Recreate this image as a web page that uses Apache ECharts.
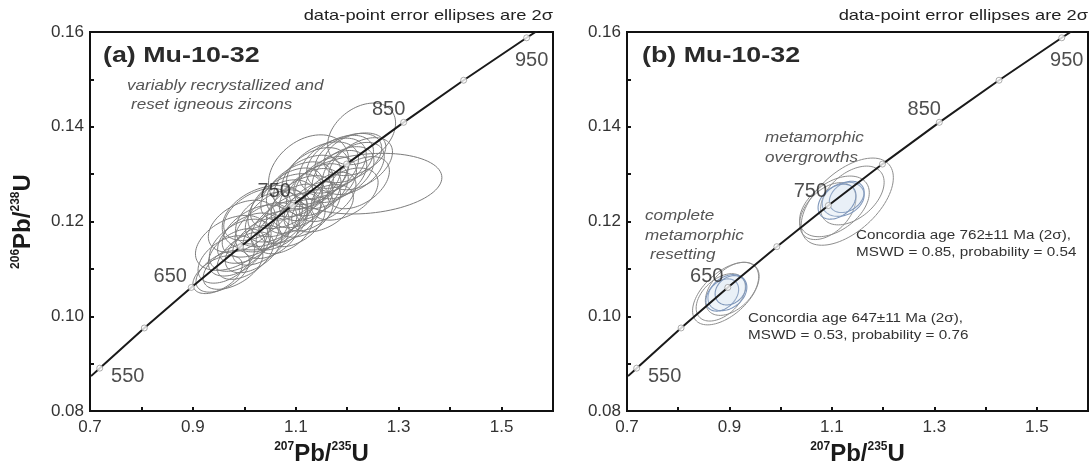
<!DOCTYPE html>
<html>
<head>
<meta charset="utf-8">
<script src="https://cdn.jsdelivr.net/npm/echarts@6/dist/echarts.min.js"></script>
<style>html,body{margin:0;padding:0;background:#fff}#c{width:1092px;height:471px}</style>
</head>
<body>
<div id="c"></div>
<script>
// ---- Data ----
const ages = [550, 600, 650, 700, 750, 800, 850, 900, 950];
const concordiaX = [0.7189, 0.8056, 0.8968, 0.9925, 1.0931, 1.1987, 1.3097, 1.4263, 1.5488];
const concordiaY = [0.08906, 0.09754, 0.10609, 0.11470, 0.12338, 0.13213, 0.14094, 0.14982, 0.15878];
const concordiaStart = [0.7020, 0.08738];   // 540 Ma
const concordiaEnd = [1.5740, 0.16058];     // 960 Ma
const labeledAges = [550, 650, 750, 850, 950];
const xTickLabels = ['0.7', '0.9', '1.1', '1.3', '1.5'];
const yTickLabels = ['0.08', '0.10', '0.12', '0.14', '0.16'];

// ellipse: [x 207Pb/235U, y 206Pb/238U, 2s x, 2s y, rho]
const ellipsesA = [
  [0.958, 0.1095, 0.052, 0.0044, 0.50],
  [0.965, 0.1120, 0.055, 0.0050, 0.45],
  [0.978, 0.1105, 0.058, 0.0048, 0.50],
  [0.985, 0.1135, 0.055, 0.0050, 0.45],
  [0.992, 0.1150, 0.060, 0.0055, 0.45],
  [0.995, 0.1190, 0.065, 0.0055, 0.40],
  [1.002, 0.1128, 0.055, 0.0050, 0.50],
  [1.008, 0.1165, 0.060, 0.0053, 0.45],
  [1.018, 0.1142, 0.055, 0.0050, 0.50],
  [0.975, 0.1155, 0.070, 0.0058, 0.40],
  [1.022, 0.1180, 0.065, 0.0055, 0.45],
  [1.025, 0.1215, 0.065, 0.0055, 0.45],
  [1.032, 0.1158, 0.055, 0.0050, 0.50],
  [1.042, 0.1188, 0.060, 0.0052, 0.45],
  [1.048, 0.1205, 0.065, 0.0058, 0.40],
  [1.052, 0.1172, 0.055, 0.0050, 0.45],
  [1.062, 0.1212, 0.060, 0.0055, 0.45],
  [1.068, 0.1192, 0.055, 0.0052, 0.50],
  [1.072, 0.1228, 0.065, 0.0060, 0.40],
  [1.078, 0.1182, 0.055, 0.0050, 0.45],
  [1.082, 0.1243, 0.070, 0.0058, 0.45],
  [1.088, 0.1207, 0.060, 0.0053, 0.50],
  [1.092, 0.1258, 0.060, 0.0055, 0.45],
  [1.098, 0.1227, 0.055, 0.0052, 0.45],
  [1.102, 0.1197, 0.055, 0.0050, 0.50],
  [1.108, 0.1268, 0.065, 0.0058, 0.40],
  [1.112, 0.1242, 0.060, 0.0055, 0.45],
  [1.118, 0.1217, 0.055, 0.0050, 0.45],
  [1.122, 0.1282, 0.065, 0.0058, 0.45],
  [1.128, 0.1257, 0.060, 0.0055, 0.45],
  [1.132, 0.1232, 0.055, 0.0052, 0.50],
  [1.138, 0.1296, 0.065, 0.0060, 0.40],
  [1.142, 0.1267, 0.060, 0.0055, 0.45],
  [1.152, 0.1308, 0.070, 0.0060, 0.40],
  [1.152, 0.1228, 0.060, 0.0050, 0.45],
  [1.158, 0.1282, 0.060, 0.0055, 0.45],
  [1.162, 0.1252, 0.055, 0.0052, 0.50],
  [1.172, 0.1318, 0.065, 0.0058, 0.40],
  [1.178, 0.1295, 0.060, 0.0055, 0.45],
  [1.186, 0.1326, 0.065, 0.0056, 0.40],
  [1.192, 0.1303, 0.060, 0.0055, 0.45],
  [1.195, 0.1258, 0.065, 0.0055, 0.45],
  [1.202, 0.1334, 0.065, 0.0052, 0.40],
  [1.212, 0.1312, 0.060, 0.0055, 0.45],
  [1.215, 0.1342, 0.060, 0.0045, 0.35],
  [1.222, 0.1282, 0.060, 0.0055, 0.45],
  [1.226, 0.1322, 0.062, 0.0055, 0.45],
  [1.228, 0.1385, 0.066, 0.0065, 0.35],
  [1.240, 0.1280, 0.144, 0.0064, 0.20],
  [1.125, 0.1305, 0.078, 0.0078, 0.30],
  [1.040, 0.1208, 0.083, 0.0068, 0.30],
  [0.948, 0.1088, 0.048, 0.0040, 0.50]
];
const ellipsesBGrey = [
  [0.893, 0.1048, 0.065, 0.0066, 0.55],
  [0.905, 0.1058, 0.052, 0.0056, 0.45],
  [0.883, 0.1040, 0.048, 0.0050, 0.45],
  [1.130, 0.1242, 0.090, 0.0092, 0.55],
  [1.105, 0.1232, 0.068, 0.0064, 0.45],
  [1.140, 0.1255, 0.062, 0.0062, 0.45],
  [1.092, 0.1222, 0.055, 0.0060, 0.45]
];
const ellipsesBBlue = [
  [0.896, 0.1050, 0.038, 0.0038, 0.30],
  [0.886, 0.1045, 0.032, 0.0034, 0.35],
  [0.902, 0.1055, 0.030, 0.0031, 0.25],
  [1.122, 0.1247, 0.041, 0.0036, 0.25],
  [1.129, 0.1252, 0.034, 0.0033, 0.30],
  [1.110, 0.1242, 0.037, 0.0037, 0.35]
];

// ---- Styling / layout ----
const FONT = "'Liberation Sans', Arial, Helvetica, sans-serif";
const ageLabelOffset = {550: [28, 8], 650: [-21, -11], 750: [-18, -14], 850: [-15, -13], 950: [5, 23]};

function ellipseRenderer(style) {
  return function (params, api) {
    const cx = api.value(0), cy = api.value(1), sx = api.value(2), sy = api.value(3), r = api.value(4);
    const k = Math.sqrt(1 - r * r);
    const pts = [];
    for (let i = 0; i < 90; i++) {
      const t = i / 90 * 2 * Math.PI;
      const c = Math.cos(t), s = Math.sin(t);
      pts.push(api.coord([cx + sx * c, cy + sy * (r * c + k * s)]));
    }
    return {type: 'polygon', shape: {points: pts}, style: style};
  };
}

const concordiaLine = [concordiaStart].concat(ages.map((a, i) => [concordiaX[i], concordiaY[i]])).concat([concordiaEnd]);
const ageMarkers = ages.map((a, i) => ({
  value: [concordiaX[i], concordiaY[i]],
  label: labeledAges.includes(a) ? {show: true, formatter: String(a), offset: ageLabelOffset[a]} : {show: false}
}));

const supName = (a, b) => `{s|${a}}{b|Pb/}{s|${b}}{b|U}`;
const nameRich = {
  s: {fontSize: 12, fontWeight: 'bold', fontFamily: FONT, color: '#1a1a1a', verticalAlign: 'top', lineHeight: 26},
  b: {fontSize: 24, fontWeight: 'bold', fontFamily: FONT, color: '#1a1a1a', lineHeight: 26}
};

function xAxisCfg(gi) {
  return {
    gridIndex: gi, type: 'value', min: 0.7, max: 1.6, interval: 0.1,
    name: supName('207', '235'), nameLocation: 'middle', nameGap: 25,
    nameTextStyle: {rich: nameRich},
    axisLine: {lineStyle: {color: '#111', width: 2}},
    axisTick: {inside: true, length: 4, lineStyle: {color: '#111', width: 2}},
    axisLabel: {
      margin: 8, fontSize: 17, color: '#333', fontFamily: FONT,
      formatter: v => { const t = v.toFixed(1); return xTickLabels.includes(t) ? t : ''; }
    },
    splitLine: {show: false}
  };
}
function yAxisCfg(gi, withName) {
  const cfg = {
    gridIndex: gi, type: 'value', min: 0.08, max: 0.16, interval: 0.01,
    axisLine: {lineStyle: {color: '#111', width: 2}},
    axisTick: {inside: true, length: 4, lineStyle: {color: '#111', width: 2}},
    axisLabel: {
      margin: 6, fontSize: 17, color: '#333', fontFamily: FONT,
      formatter: v => { const t = v.toFixed(2); return yTickLabels.includes(t) ? t : ''; }
    },
    splitLine: {show: false}
  };
  if (withName) {
    Object.assign(cfg, {
      name: supName('206', '238'), nameLocation: 'middle', nameGap: 54, nameRotate: 90,
      nameTextStyle: {rich: nameRich}
    });
  }
  return cfg;
}

function panelSeries(gi) {
  return [
    {
      type: 'line', xAxisIndex: gi, yAxisIndex: gi, data: concordiaLine, showSymbol: false,
      lineStyle: {color: '#1a1a1a', width: 2}, z: 5, silent: true, clip: true
    },
    {
      type: 'scatter', xAxisIndex: gi, yAxisIndex: gi, data: ageMarkers, symbol: 'circle', symbolSize: 6,
      itemStyle: {color: '#fff', borderColor: '#999', borderWidth: 1}, z: 6,
      label: {position: 'inside', fontSize: 20, color: '#222', fontFamily: FONT}
    }
  ];
}

const greyStyleA = {fill: 'none', stroke: '#7c7c7c', lineWidth: 1};
const greyStyleB = {fill: 'none', stroke: '#8e8e8e', lineWidth: 1};
const blueStyleB = {fill: 'rgba(215,228,242,0.22)', stroke: '#8098bb', lineWidth: 1.1};

function gtext(x, y, text, opt) {
  return {
    type: 'text', x: x, y: y, scaleX: 1.22, scaleY: 1,
    style: Object.assign({text: text, fontFamily: FONT, fill: '#333', fontSize: 14}, opt || {})
  };
}

const option = {
  animation: false,
  backgroundColor: '#fff',
  grid: [
    {left: 90, top: 32, width: 463, height: 386, show: true, borderColor: '#111', borderWidth: 2, backgroundColor: 'transparent'},
    {left: 627, top: 32, width: 461, height: 386, show: true, borderColor: '#111', borderWidth: 2, backgroundColor: 'transparent'}
  ],
  xAxis: [xAxisCfg(0), xAxisCfg(1)],
  yAxis: [yAxisCfg(0, true), yAxisCfg(1, false)],
  series: [
    {type: 'custom', xAxisIndex: 0, yAxisIndex: 0, data: ellipsesA, renderItem: ellipseRenderer(greyStyleA), z: 2, silent: true, clip: true},
    {type: 'custom', xAxisIndex: 1, yAxisIndex: 1, data: ellipsesBGrey, renderItem: ellipseRenderer(greyStyleB), z: 2, silent: true},
    {type: 'custom', xAxisIndex: 1, yAxisIndex: 1, data: ellipsesBBlue, renderItem: ellipseRenderer(blueStyleB), z: 3, silent: true}
  ].concat(panelSeries(0), panelSeries(1)),
  graphic: [
    gtext(553, 16, 'data-point error ellipses are 2σ', {fontSize: 15, textAlign: 'right', textVerticalAlign: 'middle', fill: '#222'}),
    gtext(1088, 16, 'data-point error ellipses are 2σ', {fontSize: 15, textAlign: 'right', textVerticalAlign: 'middle', fill: '#222'}),
    gtext(103, 56, '(a) Mu-10-32', {fontSize: 22, fontWeight: 'bold', textVerticalAlign: 'middle', fill: '#2a2a2a'}),
    gtext(642, 56, '(b) Mu-10-32', {fontSize: 22, fontWeight: 'bold', textVerticalAlign: 'middle', fill: '#2a2a2a'}),
    gtext(127, 86, 'variably recrystallized and', {fontSize: 14, fontStyle: 'italic', textVerticalAlign: 'middle', fill: '#555'}),
    gtext(131, 105, 'reset igneous zircons', {fontSize: 14, fontStyle: 'italic', textVerticalAlign: 'middle', fill: '#555'}),
    gtext(765, 138, 'metamorphic', {fontSize: 14, fontStyle: 'italic', textVerticalAlign: 'middle', fill: '#555'}),
    gtext(765, 158, 'overgrowths', {fontSize: 14, fontStyle: 'italic', textVerticalAlign: 'middle', fill: '#555'}),
    gtext(645, 216, 'complete', {fontSize: 14, fontStyle: 'italic', textVerticalAlign: 'middle', fill: '#555'}),
    gtext(645, 236, 'metamorphic', {fontSize: 14, fontStyle: 'italic', textVerticalAlign: 'middle', fill: '#555'}),
    gtext(650, 255, 'resetting', {fontSize: 14, fontStyle: 'italic', textVerticalAlign: 'middle', fill: '#555'}),
    gtext(856, 236, 'Concordia age 762±11 Ma (2σ),', {fontSize: 12.5, textVerticalAlign: 'middle', fill: '#333'}),
    gtext(856, 253, 'MSWD = 0.85, probability = 0.54', {fontSize: 12.5, textVerticalAlign: 'middle', fill: '#333'}),
    gtext(748, 319, 'Concordia age 647±11 Ma (2σ),', {fontSize: 12.5, textVerticalAlign: 'middle', fill: '#333'}),
    gtext(748, 336, 'MSWD = 0.53, probability = 0.76', {fontSize: 12.5, textVerticalAlign: 'middle', fill: '#333'})
  ]
};

const chart = echarts.init(document.getElementById('c'), null, {renderer: 'canvas'});
chart.setOption(option);
</script>
</body>
</html>
